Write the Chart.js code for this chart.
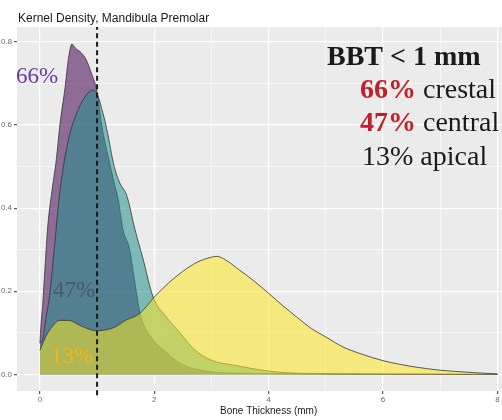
<!DOCTYPE html>
<html><head><meta charset="utf-8">
<script src="https://cdn.jsdelivr.net/npm/chart.js@4/dist/chart.umd.min.js"></script>
<style>html,body{margin:0;padding:0;background:#fff;overflow:hidden}#wrap{width:502px;height:420px;position:relative}</style>
</head><body><div id="wrap"><canvas id="c" width="502" height="420"></canvas></div>
<script>
// ---- data ----
const crestalX = [0, 0.02, 0.05, 0.1, 0.14, 0.2, 0.29, 0.35, 0.44, 0.5, 0.56, 0.62, 0.7, 0.8, 0.9, 1.0, 1.08, 1.2, 1.3, 1.37, 1.45, 1.57, 1.65, 1.75, 1.85, 2.0, 2.15, 2.45, 3.0, 3.5, 4.0, 5.0, 6.0, 8.0];
const crestalY = [0.075, 0.12, 0.17, 0.28, 0.36, 0.43, 0.52, 0.6, 0.69, 0.76, 0.795, 0.785, 0.777, 0.76, 0.725, 0.68, 0.6, 0.52, 0.46, 0.42, 0.35, 0.3, 0.23, 0.147, 0.11, 0.08, 0.06, 0.027, 0.006, 0.003, 0.002, 0.001, 0.0005, 0];
const centralX = [0, 0.05, 0.1, 0.17, 0.26, 0.35, 0.5, 0.68, 0.8, 0.92, 1.0, 1.1, 1.17, 1.3, 1.4, 1.52, 1.66, 1.8, 1.98, 2.2, 2.45, 2.7, 3.0, 3.4, 4.2, 5.0, 6.0, 8.0];
const centralY = [0.075, 0.085, 0.13, 0.19, 0.315, 0.44, 0.565, 0.64, 0.67, 0.684, 0.675, 0.63, 0.59, 0.5, 0.46, 0.43, 0.35, 0.28, 0.186, 0.14, 0.1, 0.06, 0.034, 0.022, 0.005, 0.002, 0.001, 0];
const apicalX = [0, 0.1, 0.2, 0.35, 0.5, 0.7, 0.9, 1.0, 1.1, 1.3, 1.5, 1.75, 2.0, 2.25, 2.5, 2.75, 3.0, 3.1, 3.25, 3.5, 3.75, 4.0, 4.25, 4.5, 4.75, 5.0, 5.3, 5.6, 6.0, 6.3, 6.6, 7.0, 7.5, 8.0];
const apicalY = [0.058, 0.09, 0.112, 0.13, 0.13, 0.118, 0.107, 0.105, 0.106, 0.113, 0.13, 0.147, 0.186, 0.22, 0.248, 0.27, 0.282, 0.284, 0.275, 0.25, 0.224, 0.195, 0.165, 0.137, 0.11, 0.09, 0.066, 0.05, 0.033, 0.024, 0.017, 0.01, 0.005, 0.001];
const thresholdX = 1;
const xTickLabels = [0, 2, 4, 6, 8];
const yTickLabels = [0, 0.2, 0.4, 0.6, 0.8];
const chartTitle = 'Kernel Density, Mandibula Premolar';
const xTitle = 'Bone Thickness (mm)';
const summaryHeader = 'BBT < 1 mm';
const summaryPct = ['66%', '47%', '13%'];
const summaryNames = ['crestal', 'central', 'apical'];
const summaryBold = [true, true, false];

const pts = (xs, ys) => xs.map((x, i) => ({x, y: ys[i]}));
const near = (v, arr) => arr.some(t => Math.abs(t - v) < 1e-9);
const SERIF = '"Liberation Serif", "Times New Roman", serif';
const SANS = '"Liberation Sans", Arial, sans-serif';

const panelBg = {
  id: 'panelBg',
  beforeDraw(chart) {
    const {ctx, chartArea: a} = chart;
    ctx.save();
    ctx.fillStyle = '#EBEBEB';
    ctx.fillRect(a.left, a.top, a.right - a.left, a.bottom - a.top);
    ctx.restore();
  }
};

const overlay = {
  id: 'overlay',
  afterDraw(chart) {
    const {ctx, chartArea: a, scales} = chart;
    ctx.save();
    // title
    ctx.font = '12px ' + SANS;
    ctx.fillStyle = '#1a1a1a';
    ctx.textBaseline = 'alphabetic';
    ctx.textAlign = 'left';
    ctx.fillText(chartTitle, 18, 22);
    // x axis title
    ctx.font = '10px ' + SANS;
    ctx.textAlign = 'center';
    ctx.fillText(xTitle, scales.x.getPixelForValue(4), 414);
    // labels in panel
    ctx.textAlign = 'left';
    ctx.font = '23px ' + SERIF;
    ctx.fillStyle = '#6A3D9E';
    ctx.fillText(summaryPct[0], a.left - 1, 83);
    ctx.fillStyle = 'rgba(70,84,108,0.9)';
    ctx.fillText(summaryPct[1], a.left + 36, 297);
    ctx.fillStyle = '#F2B51C';
    ctx.fillText(summaryPct[2], a.left + 34, 363);
    // summary box
    ctx.fillStyle = '#1a1a1a';
    ctx.font = 'bold 28px ' + SERIF;
    ctx.fillText(summaryHeader, 327, 65);
    const baselines = [98, 131, 165];
    for (let i = 0; i < summaryPct.length; i++) {
      let x = 360;
      if (summaryBold[i]) {
        ctx.font = 'bold 28px ' + SERIF;
        ctx.fillStyle = '#C0202A';
      } else {
        ctx.font = '28px ' + SERIF;
        ctx.fillStyle = '#1a1a1a';
        x = 362;
      }
      const p = summaryPct[i] + ' ';
      ctx.fillText(p, x, baselines[i]);
      x += ctx.measureText(p).width;
      ctx.font = '28px ' + SERIF;
      ctx.fillStyle = '#1a1a1a';
      ctx.fillText(summaryNames[i], x, baselines[i]);
    }
    ctx.restore();
  }
};

const areaStyle = (fill, order) => ({
  backgroundColor: fill, borderColor: '#333', borderWidth: 0.8,
  fill: 'origin', pointRadius: 0, cubicInterpolationMode: 'monotone', order
});

new Chart(document.getElementById('c'), {
  type: 'line',
  data: {
    datasets: [
      Object.assign({label: 'crestal', data: pts(crestalX, crestalY)}, areaStyle('rgba(68,1,84,0.55)', 3)),
      Object.assign({label: 'central', data: pts(centralX, centralY)}, areaStyle('rgba(33,144,140,0.55)', 2)),
      Object.assign({label: 'apical', data: pts(apicalX, apicalY)}, areaStyle('rgba(253,231,37,0.55)', 1)),
      {label: 'threshold', data: [{x: thresholdX, y: -0.05}, {x: thresholdX, y: 0.836}],
       borderColor: '#1a1a1a', borderWidth: 2, borderDash: [5, 3.5], pointRadius: 0, fill: false, order: 0, clip: false}
    ]
  },
  options: {
    responsive: false, animation: false, devicePixelRatio: 1,
    layout: {padding: {top: 27, left: 0, right: 0, bottom: 0}},
    plugins: {legend: {display: false}, tooltip: {enabled: false}, title: {display: false}},
    scales: {
      x: {
        type: 'linear', min: -0.4, max: 8.08,
        afterFit(s) { s.height = 29; },
        border: {display: false},
        grid: {
          color: '#FFFFFF',
          lineWidth: c => (c.tick && near(c.tick.value, xTickLabels)) ? 1.2 : 0.6,
          tickColor: c => (c.tick && near(c.tick.value, xTickLabels)) ? '#555' : 'rgba(0,0,0,0)',
          tickLength: 3
        },
        ticks: {
          stepSize: 1, includeBounds: false, maxRotation: 0, autoSkip: false, padding: 1,
          color: '#6a6a6a', font: {family: SANS, size: 8},
          callback: v => near(v, xTickLabels) ? String(Math.round(v)) : ''
        }
      },
      y: {
        type: 'linear', min: -0.04, max: 0.836,
        afterFit(s) { s.width = 17; },
        border: {display: false},
        grid: {
          color: '#FFFFFF',
          lineWidth: c => (c.tick && near(c.tick.value, yTickLabels)) ? 1.2 : 0.6,
          tickColor: c => (c.tick && near(c.tick.value, yTickLabels)) ? '#555' : 'rgba(0,0,0,0)',
          tickLength: 3
        },
        ticks: {
          stepSize: 0.1, includeBounds: false, autoSkip: false, padding: 2,
          color: '#6a6a6a', font: {family: SANS, size: 8},
          callback: v => near(v, yTickLabels) ? v.toFixed(1) : ''
        }
      }
    }
  },
  plugins: [panelBg, overlay]
});
</script></body></html>
